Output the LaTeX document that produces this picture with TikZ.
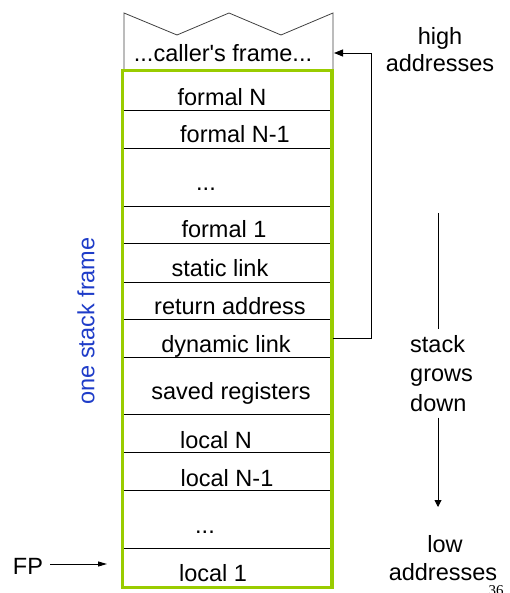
\documentclass[tikz,border=0pt]{standalone}
\usepackage{fontspec}
\setmainfont{Liberation Sans}
\newfontfamily\numfont{Liberation Serif}
\usetikzlibrary{arrows.meta}
\definecolor{framegreen}{RGB}{153,204,0}
\definecolor{labelblue}{RGB}{30,60,200}
\begin{document}
\begin{tikzpicture}[x=1pt,y=-1pt,
  lbl/.style={anchor=base,inner sep=0pt,font=\fontsize{23.5}{29}\selectfont},
  sepline/.style={line width=0.9pt,black},
  callerline/.style={line width=0.8pt,black!75},
  greenframe/.style={line width=3.6pt,framegreen},
  conn/.style={line width=0.9pt,black},
  tipA/.style={-{Triangle[length=9pt,width=7pt]}}]
\useasboundingbox (0,0) rectangle (510,593);
\clip (0,0) rectangle (510,593);

% caller's frame outline (torn top)
\draw[callerline] (124,70) -- (124,13) -- (177,35) -- (229,13) -- (281,35) -- (333,13) -- (333,70);
\node[lbl] (caller) at (223,62) {...caller\textquotesingle s frame...};

% separators between slots
\foreach \yy in {110,148,206,243,282,319,357,414,452,490,548}
  \draw[sepline] (122.5,\yy) -- (332,\yy);

% slot labels
\node[lbl] (fN)   at (222,106) {formal N};
\node[lbl] (fN1)  at (235,143) {formal N-1};
\node[lbl] (fdot) at (206,191) {...};
\node[lbl] (f1)   at (224,238) {formal 1};
\node[lbl] (sl)   at (220,276) {static link};
\node[lbl] (ra)   at (230,314) {return address};
\node[lbl] (dl)   at (226,352) {dynamic link};
\node[lbl] (sr)   at (231,399) {saved registers};
\node[lbl] (lN)   at (216,448) {local N};
\node[lbl] (lN1)  at (227,486) {local N-1};
\node[lbl] (ldot) at (205,533) {...};
\node[lbl] (l1)   at (213,581) {local 1};

% green frame
\draw[greenframe] (122.5,70.5) rectangle (332,587.5);

% one stack frame label
\node[lbl,anchor=center,rotate=90,text=labelblue] (osf) at (86,321) {one stack frame};

% dynamic link pointer
\coordinate (dlstart) at (333,338);
\coordinate (cfend) at (334,53);
\draw[conn,tipA] (dlstart) -- (371,338) |- (cfend);

% high / low addresses
\node[lbl] (high) at (440,45) {high};
\node[lbl] (haddr) at (440,72) {addresses};
\node[lbl] (low) at (445,552) {low};
\node[lbl] (laddr) at (443,580) {addresses};

% stack grows down
\node[lbl,anchor=west,align=left,inner ysep=0pt,outer ysep=6pt,font=\fontsize{23.5}{29.5}\selectfont] (grow) at (410,373.5) {stack\\grows\\down};
\coordinate (gtop) at (438,213);
\coordinate (gbot) at (438,507);
\draw[conn] (gtop) -- (gtop |- grow.north);
\draw[conn,-{Triangle[length=7pt,width=7pt]}] (gtop |- grow.south) -- (gbot);

% FP
\node[lbl,outer xsep=7pt] (fp) at (28,574) {FP};
\coordinate (fpend) at (107,564);
\draw[conn,-{Triangle[length=9pt,width=5pt]}] (fp.east |- fpend) -- (fpend);

% page number
\node[anchor=base,inner sep=0pt,font=\numfont\fontsize{15}{17}\selectfont] (pg) at (496,595) {36};
\end{tikzpicture}
\end{document}
